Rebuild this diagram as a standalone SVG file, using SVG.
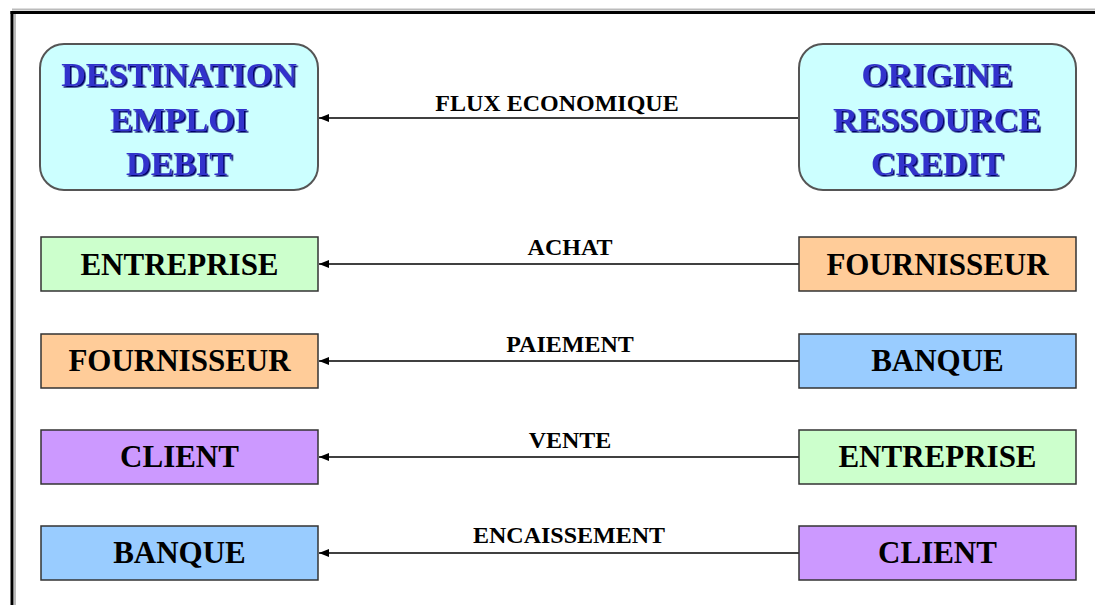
<svg xmlns="http://www.w3.org/2000/svg" width="1095" height="605" viewBox="0 0 1095 605">
  <style>
    .frame { stroke: #000; stroke-width: 3; fill: none; }
    .frame-sh { stroke: #bbb; stroke-width: 2; fill: none; }
    .head { fill: #ccffff; stroke: #555; stroke-width: 2; }
    .box { stroke: #333; stroke-width: 1.5; }
    .green { fill: #ccffcc; }
    .orange { fill: #ffcc99; }
    .blue { fill: #99ccff; }
    .purple { fill: #cc99ff; }
    .htxt { font-family: "Liberation Serif", "Times New Roman", serif; font-weight: bold; font-size: 34px; fill: #3333cc; text-anchor: middle; filter: url(#sh); }
    .btxt { font-family: "Liberation Serif", "Times New Roman", serif; font-weight: bold; font-size: 31px; fill: #000; text-anchor: middle; }
    .ltxt { font-family: "Liberation Serif", "Times New Roman", serif; font-weight: bold; font-size: 24px; fill: #000; text-anchor: middle; }
    .conn { stroke: #000; stroke-width: 1.5; fill: none; marker-end: url(#arr); }
  </style>
  <defs>
    <filter id="sh" x="-10%" y="-30%" width="120%" height="160%">
      <feDropShadow dx="1.6" dy="1.6" stdDeviation="0.4" flood-color="#000066" flood-opacity="1"/>
    </filter>
    <marker id="arr" viewBox="0 0 10 8" refX="10" refY="4" markerWidth="10" markerHeight="8" markerUnits="userSpaceOnUse" orient="auto">
      <path d="M0,0 L10,4 L0,8 Z" fill="#000"/>
    </marker>
  </defs>

  <rect x="0" y="0" width="1095" height="605" fill="#fff"/>

  <g id="frame">
    <line class="frame-sh" x1="12" y1="9.5" x2="1095" y2="9.5"/>
    <line class="frame-sh" x1="15" y1="14" x2="15" y2="605"/>
    <line class="frame" x1="10.5" y1="12.5" x2="1095" y2="12.5"/>
    <line class="frame" x1="12" y1="11" x2="12" y2="605"/>
  </g>

  <g id="connectors">
    <line class="conn" x1="799" y1="118" x2="319" y2="118"/>
    <line class="conn" x1="799" y1="264" x2="319" y2="264"/>
    <line class="conn" x1="799" y1="361" x2="319" y2="361"/>
    <line class="conn" x1="799" y1="457" x2="319" y2="457"/>
    <line class="conn" x1="799" y1="553" x2="319" y2="553"/>
    <text class="ltxt" x="557" y="111">FLUX ECONOMIQUE</text>
    <text class="ltxt" x="570" y="255">ACHAT</text>
    <text class="ltxt" x="570" y="352">PAIEMENT</text>
    <text class="ltxt" x="570" y="448">VENTE</text>
    <text class="ltxt" x="569" y="543">ENCAISSEMENT</text>
  </g>

  <g id="destination">
    <rect class="head" x="40" y="44" width="278" height="146" rx="24" ry="24"/>
    <text class="htxt" x="179" y="86">DESTINATION</text>
    <text class="htxt" x="179" y="131">EMPLOI</text>
    <text class="htxt" x="179" y="175">DEBIT</text>
  </g>

  <g id="origine">
    <rect class="head" x="799" y="44" width="277" height="146" rx="24" ry="24"/>
    <text class="htxt" x="937" y="86">ORIGINE</text>
    <text class="htxt" x="937" y="131">RESSOURCE</text>
    <text class="htxt" x="937" y="175">CREDIT</text>
  </g>

  <g id="l-entreprise">
    <rect class="box green" x="41" y="237" width="277" height="54"/>
    <text class="btxt" x="179.5" y="275">ENTREPRISE</text>
  </g>
  <g id="r-fournisseur">
    <rect class="box orange" x="799" y="237" width="277" height="54"/>
    <text class="btxt" x="937.5" y="275">FOURNISSEUR</text>
  </g>

  <g id="l-fournisseur">
    <rect class="box orange" x="41" y="334" width="277" height="54"/>
    <text class="btxt" x="179.5" y="371">FOURNISSEUR</text>
  </g>
  <g id="r-banque">
    <rect class="box blue" x="799" y="334" width="277" height="54"/>
    <text class="btxt" x="937.5" y="371">BANQUE</text>
  </g>

  <g id="l-client">
    <rect class="box purple" x="41" y="430" width="277" height="54"/>
    <text class="btxt" x="179.5" y="467">CLIENT</text>
  </g>
  <g id="r-entreprise">
    <rect class="box green" x="799" y="430" width="277" height="54"/>
    <text class="btxt" x="937.5" y="467">ENTREPRISE</text>
  </g>

  <g id="l-banque">
    <rect class="box blue" x="41" y="526" width="277" height="54"/>
    <text class="btxt" x="179.5" y="563">BANQUE</text>
  </g>
  <g id="r-client">
    <rect class="box purple" x="799" y="526" width="277" height="54"/>
    <text class="btxt" x="937.5" y="563">CLIENT</text>
  </g>
</svg>
